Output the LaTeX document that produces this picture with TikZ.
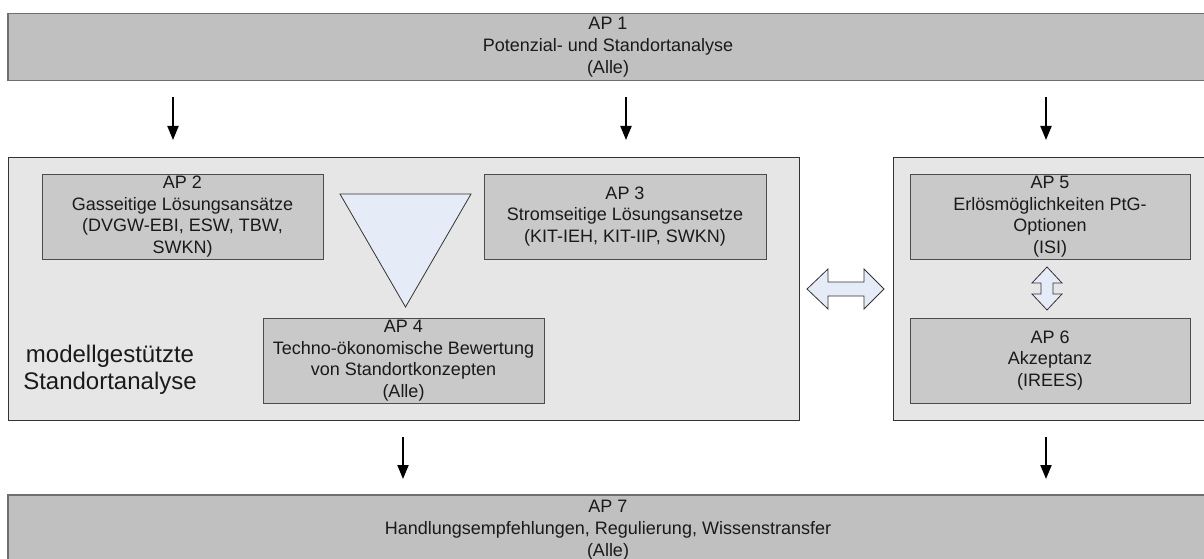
\documentclass[tikz,border=0pt]{standalone}
\usepackage{fontspec}
\setmainfont{Liberation Sans}
\usetikzlibrary{arrows.meta}
\definecolor{barfill}{HTML}{C0C0C0}
\definecolor{bardraw}{HTML}{6E6E6E}
\definecolor{groupfill}{HTML}{E6E6E6}
\definecolor{apfill}{HTML}{C9C9C9}
\definecolor{lightblue}{HTML}{E6ECF7}
\definecolor{textgray}{HTML}{1A1A1A}

\begin{document}
\begin{tikzpicture}[x=1pt,y=-1pt,>={Triangle[width=11pt,length=14pt]},
  bar/.style={rectangle,draw=bardraw,fill=barfill,line width=1.2pt,minimum width=1200pt,minimum height=67pt,inner sep=0pt,align=center,text=textgray,font=\fontsize{18}{22}\selectfont},
  group/.style={rectangle,draw=black!80,fill=groupfill,line width=1pt,minimum height=263pt,inner sep=0pt},
  ap box/.style={rectangle,draw=black!70,fill=apfill,line width=1pt,minimum width=281pt,minimum height=85pt,inner sep=0pt,align=center,text=textgray,font=\fontsize{18}{21.6}\selectfont},
  flow/.style={->,line width=2pt},
  swap arrow/.style={fill=lightblue,draw=black!80,line width=0.8pt,line join=miter}]
  \useasboundingbox (0,0) rectangle (1204,559);
  \clip (0,0) rectangle (1204,559);

  \node[bar] (ap1) at (608,47) {AP 1\\Potenzial- und Standortanalyse\\(Alle)};
  \node[group,minimum width=791pt] (lbox) at (403.5,288.5) {};
  \node[group,minimum width=314pt] (rbox) at (1050,288.5) {};

  \node[ap box] (ap2) at (182.5,216.5) {AP 2\\Gasseitige Lösungsansätze\\(DVGW-EBI, ESW, TBW,\\SWKN)};
  \node[ap box,minimum width=282pt] (ap3) at (625,216.5) {AP 3\\Stromseitige Lösungsansetze\\(KIT-IEH, KIT-IIP, SWKN)};
  \node[ap box] (ap4) at (403.5,360.5) {AP 4\\Techno-ökonomische Bewertung\\von Standortkonzepten\\(Alle)};
  \node[ap box,minimum width=280pt] (ap5) at (1050,216.5) {AP 5\\Erlösmöglichkeiten PtG-\\Optionen\\(ISI)};
  \node[ap box,minimum width=280pt] (ap6) at (1050,360.5) {AP 6\\Akzeptanz\\(IREES)};
  \node[align=center,text=textgray,font=\fontsize{24}{27}\selectfont] (mst) at (110,370) {modellgestützte\\Standortanalyse};

  \node[bar,text depth=0pt] (ap7) at (608,528.5) {AP 7\\Handlungsempfehlungen, Regulierung, Wissenstransfer\\(Alle)};

  % funnel
  \filldraw[fill=lightblue,draw=black!80,line width=0.8pt] (340,194) -- (471,194) -- (405.5,307) -- cycle;

  % swap arrows
  \filldraw[swap arrow] (807,289) -- (828,269) -- (828,282) -- (864,282) -- (864,269) -- (884,289)
    -- (864,309) -- (864,296) -- (828,296) -- (828,309) -- cycle;
  \filldraw[swap arrow] (1047,267) -- (1062,283) -- (1053,283) -- (1053,294) -- (1062,294) -- (1047,310)
    -- (1032,294) -- (1041,294) -- (1041,283) -- (1032,283) -- cycle;

  \coordinate (s1) at (173,97);  \coordinate (e1) at (173,140);
  \coordinate (s2) at (626,97);  \coordinate (e2) at (626,140);
  \coordinate (s3) at (1046,97); \coordinate (e3) at (1046,140);
  \coordinate (s4) at (403,437); \coordinate (e4) at (403,479);
  \coordinate (s5) at (1046,437); \coordinate (e5) at (1046,479);

\path[flow]
  (s1) edge (e1)
  (s2) edge (e2)
  (s3) edge (e3)
  (s4) edge (e4)
  (s5) edge (e5)
;
\end{tikzpicture}
\end{document}
